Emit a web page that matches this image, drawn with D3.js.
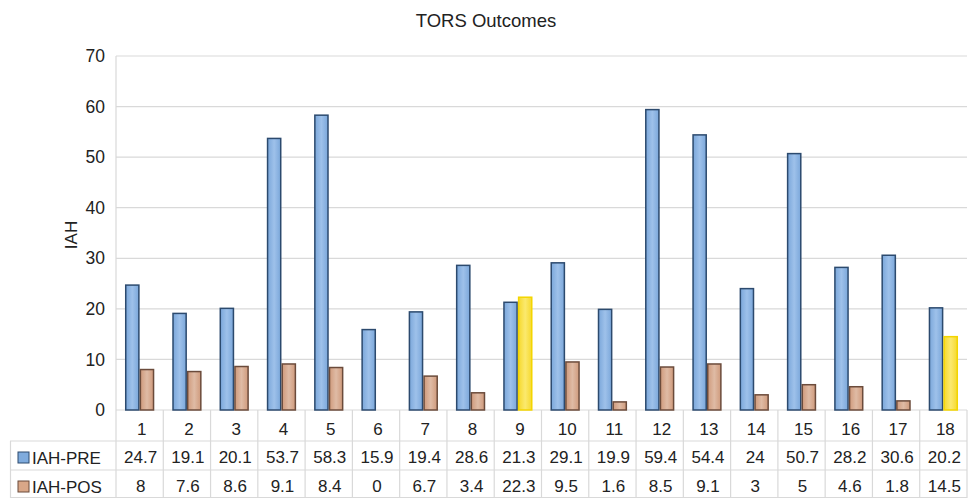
<!DOCTYPE html>
<html>
<head>
<meta charset="utf-8">
<script src="https://cdn.jsdelivr.net/npm/d3@7"></script>
<style>
  html, body { margin: 0; padding: 0; background: #fff; }
  svg { display: block; font-family: "Liberation Sans", Arial, sans-serif; }
</style>
</head>
<body>
<svg id="chart" width="968" height="498"></svg>
<script>
// Patient numbers along the x axis
const categories = ["1","2","3","4","5","6","7","8","9","10","11","12","13","14","15","16","17","18"];
// Series names shown in the data table
const seriesNames = ["IAH-PRE", "IAH-POS"];
// Apnea-hypopnea index before surgery
const iahPre = [24.7, 19.1, 20.1, 53.7, 58.3, 15.9, 19.4, 28.6, 21.3, 29.1, 19.9, 59.4, 54.4, 24, 50.7, 28.2, 30.6, 20.2];
// Apnea-hypopnea index after surgery
const iahPos = [8, 7.6, 8.6, 9.1, 8.4, 0, 6.7, 3.4, 22.3, 9.5, 1.6, 8.5, 9.1, 3, 5, 4.6, 1.8, 14.5];
// Post-op values that are highlighted in yellow
const highlighted = ["9", "18"];
const yTicks = [0, 10, 20, 30, 40, 50, 60, 70];

const svg = d3.select("#chart");
const W = 968, H = 498;
const plot = { left: 116, right: 967, top: 56, bottom: 410 };
const rowH = 28;
const gridColor = "#d9d9d9";
const textColor = "#222";
const fontSize = 17;

const defs = svg.append("defs");
function hGrad(id, edge, mid) {
  const g = defs.append("linearGradient").attr("id", id)
    .attr("x1", "0%").attr("x2", "100%").attr("y1", "0%").attr("y2", "0%");
  g.append("stop").attr("offset", "0%").attr("stop-color", edge);
  g.append("stop").attr("offset", "50%").attr("stop-color", mid);
  g.append("stop").attr("offset", "100%").attr("stop-color", edge);
}
hGrad("gPre", "#7ba7da", "#9ec1ea");
hGrad("gPos", "#cf9a7c", "#dfbba5");
hGrad("gHi", "#f6d92e", "#fbe96e");

const styles = [
  { fill: "url(#gPre)", stroke: "#2c4a6e", swatch: "#7fabdd" },
  { fill: "url(#gPos)", stroke: "#6b4b3b", swatch: "#d9a788" }
];

// Scales
const y = d3.scaleLinear().domain([0, 70]).range([plot.bottom, plot.top]);
const xCell = d3.scaleBand().domain(categories).range([plot.left, plot.right]).padding(0);
const xBar = d3.scaleBand().domain(categories).range([plot.left, plot.right])
  .paddingInner(0.38).paddingOuter(0.19);
const x1 = d3.scaleBand().domain(seriesNames).range([0, xBar.bandwidth()]).padding(0);

// Title
svg.append("text").attr("x", 486).attr("y", 27).attr("text-anchor", "middle")
  .attr("font-size", 18.5).attr("fill", textColor).text("TORS Outcomes");

// Horizontal gridlines
svg.append("g").selectAll("line").data(yTicks).join("line")
  .attr("x1", plot.left).attr("x2", plot.right)
  .attr("y1", d => y(d)).attr("y2", d => y(d))
  .attr("stroke", gridColor).attr("stroke-width", 1.2);

// Y axis built by d3, then restyled
const yAxis = svg.append("g").attr("transform", `translate(${plot.left},0)`)
  .call(d3.axisLeft(y).tickValues(yTicks).tickSize(0).tickPadding(11));
yAxis.select(".domain").attr("stroke", gridColor).attr("stroke-width", 1.2)
  .attr("d", `M0,${plot.top}V${H}`);
yAxis.selectAll("text").attr("font-size", 17.5).attr("fill", textColor)
  .attr("font-family", "Liberation Sans, Arial, sans-serif");

// Y axis title
svg.append("text").attr("transform", `translate(77,${(plot.top + plot.bottom) / 2 + 2}) rotate(-90)`)
  .attr("text-anchor", "middle").attr("font-size", 17).attr("fill", textColor).text("IAH");

// Bars
const rows = categories.map((c, i) => ({ cat: c, vals: [iahPre[i], iahPos[i]] }));
const groups = svg.append("g").selectAll("g").data(rows).join("g")
  .attr("transform", d => `translate(${xBar(d.cat)},0)`);
groups.selectAll("rect").data(d => d.vals.map((v, k) => ({ cat: d.cat, v, k })))
  .join("rect")
  .filter(d => d.v > 0)
  .attr("x", d => x1(seriesNames[d.k]) + 0.75)
  .attr("width", x1.bandwidth() - 1.5)
  .attr("y", d => y(d.v))
  .attr("height", d => y(0) - y(d.v))
  .attr("fill", d => (d.k === 1 && highlighted.includes(d.cat)) ? "url(#gHi)" : styles[d.k].fill)
  .attr("stroke", d => (d.k === 1 && highlighted.includes(d.cat)) ? "#f3d500" : styles[d.k].stroke)
  .attr("stroke-width", 1.5);

// Data table below the plot
const tbl = svg.append("g");
const rowTops = [plot.bottom, plot.bottom + rowH + 3, plot.bottom + 2 * rowH + 4];
// horizontal table lines
[rowTops[1], rowTops[2], H - 0.5].forEach(yy => {
  tbl.append("line").attr("x1", 10).attr("x2", plot.right).attr("y1", yy).attr("y2", yy)
    .attr("stroke", gridColor).attr("stroke-width", 1.2);
});
// left border of legend column
tbl.append("line").attr("x1", 10.5).attr("x2", 10.5).attr("y1", rowTops[1]).attr("y2", H)
  .attr("stroke", gridColor).attr("stroke-width", 1.2);
// column separators
tbl.selectAll("line.sep").data(categories).join("line").attr("class", "sep")
  .attr("x1", d => xCell(d) + xCell.bandwidth()).attr("x2", d => xCell(d) + xCell.bandwidth())
  .attr("y1", plot.bottom).attr("y2", H)
  .attr("stroke", gridColor).attr("stroke-width", 1.2);

const fmt = v => String(v);
// category labels
tbl.selectAll("text.cat").data(categories).join("text").attr("class", "cat")
  .attr("x", d => xCell(d) + xCell.bandwidth() / 2 + 2).attr("y", plot.bottom + 25)
  .attr("text-anchor", "middle").attr("font-size", fontSize).attr("fill", textColor).text(d => d);

[iahPre, iahPos].forEach((vals, k) => {
  const base = rowTops[k + 1];
  tbl.selectAll(`text.v${k}`).data(vals).join("text").attr("class", `v${k}`)
    .attr("x", (d, i) => xCell(categories[i]) + xCell.bandwidth() / 2 + 1)
    .attr("y", base + 22)
    .attr("text-anchor", "middle").attr("font-size", fontSize).attr("fill", textColor).text(fmt);
  tbl.append("rect").attr("x", 18).attr("y", base + 11).attr("width", 11).attr("height", 11)
    .attr("fill", styles[k].swatch).attr("stroke", styles[k].stroke).attr("stroke-width", 1);
  tbl.append("text").attr("x", 32).attr("y", base + 23).attr("font-size", fontSize)
    .attr("fill", textColor).text(seriesNames[k]);
});
</script>
</body>
</html>
